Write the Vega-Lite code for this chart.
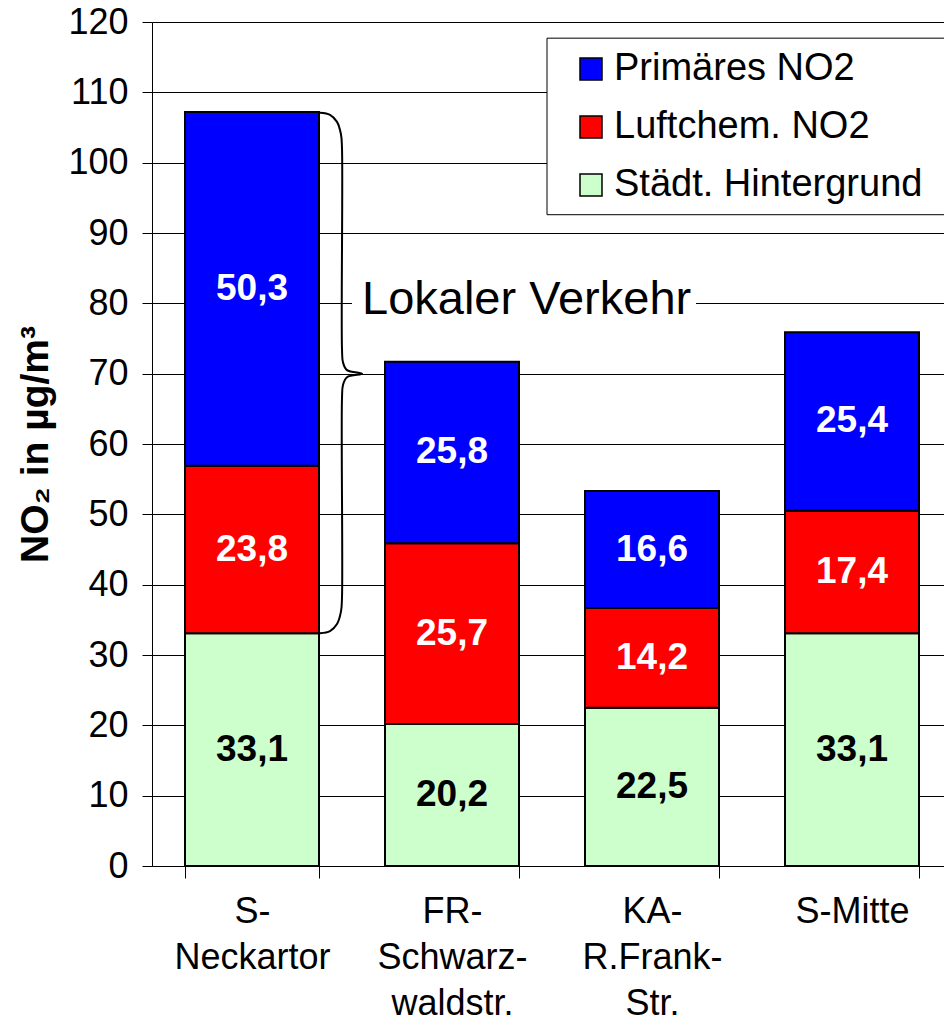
{
  "$schema": "https://vega.github.io/schema/vega-lite/v6.json",
  "width": 800,
  "height": 844,
  "autosize": {"type": "none"},
  "padding": {"left": 152, "top": 22, "right": 0, "bottom": 155},
  "background": "white",
  "config": {
    "font": "Liberation Sans",
    "view": {"stroke": null},
    "locale": {"number": {"decimal": ",", "thousands": ".", "grouping": [3], "currency": ["", " €"]}}
  },
  "datasets": {
    "bars": [
      {"site": "S-|Neckartor", "comp": "Städt. Hintergrund", "value": 33.1, "rank": 1},
      {"site": "S-|Neckartor", "comp": "Luftchem. NO2", "value": 23.8, "rank": 2},
      {"site": "S-|Neckartor", "comp": "Primäres NO2", "value": 50.3, "rank": 3},
      {"site": "FR-|Schwarz-|waldstr.", "comp": "Städt. Hintergrund", "value": 20.2, "rank": 1},
      {"site": "FR-|Schwarz-|waldstr.", "comp": "Luftchem. NO2", "value": 25.7, "rank": 2},
      {"site": "FR-|Schwarz-|waldstr.", "comp": "Primäres NO2", "value": 25.8, "rank": 3},
      {"site": "KA-|R.Frank-|Str.", "comp": "Städt. Hintergrund", "value": 22.5, "rank": 1},
      {"site": "KA-|R.Frank-|Str.", "comp": "Luftchem. NO2", "value": 14.2, "rank": 2},
      {"site": "KA-|R.Frank-|Str.", "comp": "Primäres NO2", "value": 16.6, "rank": 3},
      {"site": "S-Mitte", "comp": "Städt. Hintergrund", "value": 33.1, "rank": 1},
      {"site": "S-Mitte", "comp": "Luftchem. NO2", "value": 17.4, "rank": 2},
      {"site": "S-Mitte", "comp": "Primäres NO2", "value": 25.4, "rank": 3}
    ],
    "brace": [
      {"i": 0, "bx": 0.84, "by": 107.1},
      {"i": 1, "bx": 0.89, "by": 106.8},
      {"i": 2, "bx": 0.925, "by": 105.8},
      {"i": 3, "bx": 0.945, "by": 104.0},
      {"i": 4, "bx": 0.95, "by": 102.0},
      {"i": 5, "bx": 0.95, "by": 73.5},
      {"i": 6, "bx": 0.955, "by": 71.6},
      {"i": 7, "bx": 0.975, "by": 70.5},
      {"i": 8, "bx": 1.05, "by": 70.0},
      {"i": 9, "bx": 0.975, "by": 69.5},
      {"i": 10, "bx": 0.955, "by": 68.4},
      {"i": 11, "bx": 0.95, "by": 66.5},
      {"i": 12, "bx": 0.95, "by": 38.2},
      {"i": 13, "bx": 0.945, "by": 36.2},
      {"i": 14, "bx": 0.925, "by": 34.4},
      {"i": 15, "bx": 0.89, "by": 33.4},
      {"i": 16, "bx": 0.84, "by": 33.1}
    ],
    "boxes": [
      {"kind": "note", "x1": 1.0, "x2": 2.72, "y1": 78.5, "y2": 82.5},
      {"kind": "legend", "x1": 1.975, "x2": 4.2, "y1": 92.6, "y2": 117.7}
    ],
    "note": [{"t": "Lokaler Verkehr", "nx": 1.05, "ny": 80.5}]
  },
  "layer": [
    {
      "layer": [
        {
          "data": {"name": "bars"},
          "mark": {"type": "bar", "stroke": "black", "strokeWidth": 2},
          "encoding": {
            "x": {
              "field": "site", "type": "nominal", "sort": null,
              "scale": {"paddingInner": 0.33, "paddingOuter": 0.165},
              "axis": {
                "title": null, "labelAngle": 0, "labelFontSize": 36, "labelColor": "black",
                "labelExpr": "split(datum.label, '|')", "labelLineHeight": 46,
                "labelPadding": 16, "labelBaseline": "top",
                "domainColor": "black", "domainWidth": 1, "tickColor": "black", "tickSize": 12,
                "tickBand": "extent", "grid": false
              }
            },
            "y": {
              "field": "value", "type": "quantitative", "stack": "zero",
              "scale": {"domain": [0, 120], "nice": false},
              "axis": {
                "values": [0, 10, 20, 30, 40, 50, 60, 70, 80, 90, 100, 110, 120],
                "grid": true, "gridColor": "black", "gridWidth": 1,
                "domainColor": "black", "domainWidth": 1, "tickColor": "black", "tickSize": 10,
                "labelFontSize": 36, "labelColor": "black", "labelPadding": 14,
                "title": "NO₂ in µg/m³", "titleFontSize": 39, "titleFontWeight": "bold",
                "titleColor": "black", "titleAngle": -90, "titleX": -117, "titleY": 422,
                "titleAlign": "center", "titleBaseline": "middle"
              }
            },
            "color": {
              "field": "comp", "type": "nominal",
              "scale": {
                "domain": ["Primäres NO2", "Luftchem. NO2", "Städt. Hintergrund"],
                "range": ["#0000FF", "#FF0000", "#CCFFCC"]
              },
              "legend": {
                "orient": "none", "legendX": 395, "legendY": 16, "title": null,
                "labelFontSize": 38, "labelColor": "black", "labelFont": "Liberation Sans",
                "symbolType": "square", "symbolSize": 484, "symbolStrokeColor": "black",
                "symbolStrokeWidth": 1.5, "symbolOpacity": 1,
                "padding": 12, "rowPadding": 20, "labelOffset": 4, "symbolOffset": 13,
                "labelLimit": 0
              }
            },
            "order": {"field": "rank", "type": "quantitative"}
          }
        },
        {
          "data": {"name": "bars"},
          "transform": [
            {"stack": "value", "groupby": ["site"], "sort": [{"field": "rank", "order": "ascending"}], "as": ["y0", "y1"]},
            {"calculate": "(datum.y0 + datum.y1) / 2", "as": "ym"}
          ],
          "mark": {"type": "text", "fontSize": 37, "fontWeight": "bold", "baseline": "middle"},
          "encoding": {
            "x": {"field": "site", "type": "nominal", "sort": null},
            "y": {"field": "ym", "type": "quantitative"},
            "text": {"field": "value", "type": "quantitative", "format": ".1f"},
            "color": {
              "condition": {"test": "datum.comp === 'Städt. Hintergrund'", "value": "black"},
              "value": "white"
            }
          }
        }
      ]
    },
    {
      "layer": [
        {
          "data": {"name": "boxes"},
          "mark": {"type": "rect", "fill": "white"},
          "encoding": {
            "x": {"field": "x1", "type": "quantitative", "scale": {"domain": [0, 4], "nice": false, "zero": false}, "axis": null},
            "x2": {"field": "x2"},
            "y": {"field": "y1", "type": "quantitative", "scale": {"domain": [0, 120], "nice": false}},
            "y2": {"field": "y2"},
            "stroke": {
              "condition": {"test": "datum.kind === 'legend'", "value": "black"},
              "value": null
            },
            "strokeWidth": {"value": 1}
          }
        },
        {
          "data": {"name": "brace"},
          "mark": {"type": "line", "color": "black", "strokeWidth": 2, "interpolate": "catmull-rom"},
          "encoding": {
            "x": {"field": "bx", "type": "quantitative"},
            "y": {"field": "by", "type": "quantitative"},
            "order": {"field": "i", "type": "quantitative"}
          }
        },
        {
          "data": {"name": "note"},
          "mark": {"type": "text", "fontSize": 47, "align": "left", "baseline": "middle", "color": "black"},
          "encoding": {
            "x": {"field": "nx", "type": "quantitative"},
            "y": {"field": "ny", "type": "quantitative"},
            "text": {"field": "t"}
          }
        }
      ]
    }
  ],
  "resolve": {"scale": {"x": "independent"}}
}
